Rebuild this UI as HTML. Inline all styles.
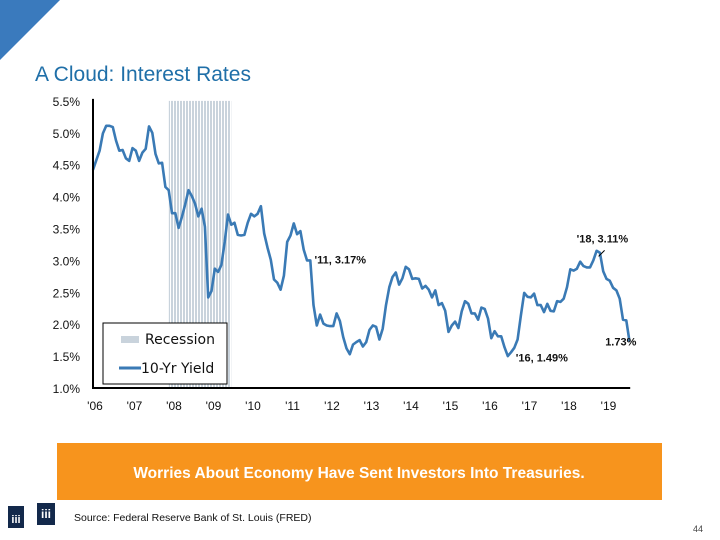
<!DOCTYPE html>
<html><head><meta charset="utf-8"><style>
body{margin:0;width:720px;height:540px;background:#fff;position:relative;overflow:hidden;font-family:"Liberation Sans",sans-serif}
</style></head><body>
<svg width="720" height="540" style="position:absolute;left:0;top:0">
<defs><pattern id="stripes" width="3" height="10" patternUnits="userSpaceOnUse"><rect width="2" height="10" fill="#c9d3dc"/></pattern></defs>
<polygon points="0,0 60,0 0,60" fill="#3a7abd"/>
<text x="35" y="81" font-size="21" fill="#1f6fa8">A Cloud: Interest Rates</text>
<g id="chart"></g>
<rect x="57" y="443" width="605" height="57" fill="#f7941d"/>
<text x="359" y="478" font-size="15.5" font-weight="bold" fill="#fff" text-anchor="middle">Worries About Economy Have Sent Investors Into Treasuries.</text>
<rect x="8" y="506" width="16" height="22" fill="#13294b"/>
<text x="16" y="523" font-size="11" fill="#fff" text-anchor="middle" font-weight="bold">iii</text>
<rect x="37" y="503" width="18" height="22" fill="#13294b"/>
<text x="46" y="518" font-size="12" fill="#fff" text-anchor="middle" font-weight="bold">iii</text>
<text x="74" y="521" font-size="10.5" fill="#111">Source: Federal Reserve Bank of St. Louis (FRED)</text>
<text x="703" y="532" font-size="9" fill="#444" text-anchor="end">44</text>
</svg>
<script>
const yearLabels=["'06","'07","'08","'09","'10","'11","'12","'13","'14","'15","'16","'17","'18","'19"];
const yTicks=[1.0,1.5,2.0,2.5,3.0,3.5,4.0,4.5,5.0,5.5];
const yields=[4.42,4.57,4.72,4.99,5.11,5.11,5.09,4.88,4.72,4.73,4.60,4.56,
4.76,4.72,4.56,4.69,4.75,5.10,5.00,4.67,4.52,4.53,4.15,4.10,
3.74,3.74,3.51,3.68,3.88,4.10,4.01,3.89,3.69,3.81,3.53,2.42,
2.52,2.87,2.82,2.93,3.29,3.72,3.56,3.59,3.40,3.39,3.40,3.59,
3.73,3.69,3.73,3.85,3.42,3.20,3.01,2.70,2.65,2.54,2.76,3.29,
3.39,3.58,3.41,3.46,3.17,3.00,3.00,2.30,1.98,2.15,2.01,1.98,
1.97,1.97,2.17,2.05,1.80,1.62,1.53,1.68,1.72,1.75,1.65,1.72,
1.91,1.98,1.96,1.76,1.93,2.30,2.58,2.74,2.81,2.62,2.72,2.90,
2.86,2.71,2.72,2.71,2.56,2.60,2.54,2.42,2.53,2.30,2.33,2.21,
1.88,1.98,2.04,1.94,2.20,2.36,2.32,2.17,2.17,2.07,2.26,2.24,
2.09,1.78,1.89,1.81,1.81,1.64,1.50,1.56,1.63,1.76,2.14,2.49,
2.43,2.42,2.48,2.30,2.30,2.19,2.32,2.21,2.20,2.36,2.35,2.40,
2.58,2.86,2.84,2.87,2.98,2.91,2.89,2.89,3.00,3.15,3.12,2.83,
2.71,2.68,2.57,2.53,2.40,2.07,2.06,1.73];
const recession=[2007.92,2009.5];
const annotations=[{t:"'11, 3.17%",yr:2011.0,v:3.17},{t:"'18, 3.11%",yr:2018.8,v:3.11},{t:"'16, 1.49%",yr:2016.5,v:1.49},{t:"1.73%",yr:2019.6,v:1.73}];
const NS="http://www.w3.org/2000/svg";
const g=document.getElementById('chart');
const X=yr=>93+(yr-2006)*39.5;
const Y=v=>388-(v-1)*63.8;
function mk(tag,at,txt){const e=document.createElementNS(NS,tag);for(const k in at)e.setAttribute(k,at[k]);if(txt!=null)e.textContent=txt;g.appendChild(e);return e;}
let r=mk('rect',{x:X(recession[0]),y:Y(5.5),width:X(recession[1])-X(recession[0]),height:Y(1)-Y(5.5),fill:'url(#stripes)'});


yTicks.forEach(v=>{const t=mk('text',{x:80,y:Y(v)+5,'font-size':12,'text-anchor':'end',fill:'#111'},v.toFixed(1)+'%');

});
yearLabels.forEach((l,i)=>{const t=mk('text',{x:X(2006+i)+2,y:410,'font-size':12,'text-anchor':'middle',fill:'#111'},l);

});
let pts=yields.map((v,i)=>X(2006+i/12).toFixed(1)+','+Y(v).toFixed(1)).join(' ');
let line=mk('polyline',{points:pts,fill:'none',stroke:'#3a7ab5','stroke-width':2.6,'stroke-linejoin':'round'});


let ax=mk('path',{d:`M${X(2006)},${Y(5.5)-2} V${Y(1)} H${X(2019.6)}`,fill:'none',stroke:'#000','stroke-width':2});


const offs=[[24,14],[-22,-11],[8,5],[-25,4]];
annotations.forEach((a,i)=>{const o=offs[i];const t=mk('text',{x:X(a.yr)+o[0],y:Y(a.v)+o[1],'font-size':11,'font-weight':'bold',fill:'#111'},a.t);

});
let ld=mk('line',{x1:X(2018.8),y1:Y(3.11)+3,x2:X(2018.8)+6,y2:Y(3.11)-3,stroke:'#000','stroke-width':1});


let lb=mk('rect',{x:103,y:323,width:124,height:61,fill:'#fff',stroke:'#000','stroke-width':1});


mk('rect',{x:121,y:336,width:18,height:7,fill:'#c9d3dc'});
let l1=mk('text',{x:145,y:344,'font-size':14,fill:'#111','font-family':'DejaVu Sans, sans-serif'},'Recession');


mk('line',{x1:119,y1:368,x2:141,y2:368,stroke:'#3a7ab5','stroke-width':3});
let l2=mk('text',{x:141,y:373,'font-size':14,fill:'#111','font-family':'DejaVu Sans, sans-serif'},'10-Yr Yield');


</script>
</body></html>
